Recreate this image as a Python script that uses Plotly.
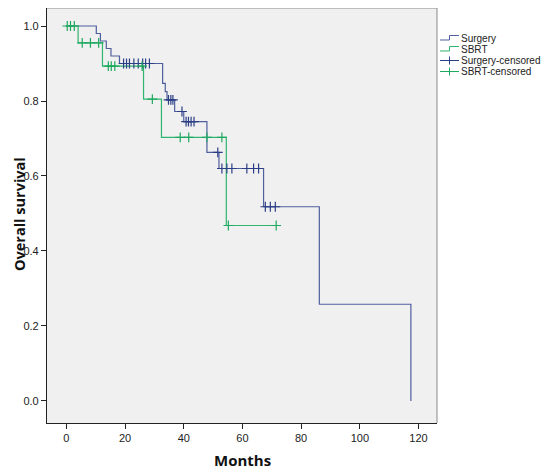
import numpy as np
import plotly.graph_objects as go

# curvas de Kaplan-Meier: tempo do evento (meses) e sobrevida depois do evento
surgery_time = [0, 10.2, 11.6, 13.6, 15.2, 18.1, 32.8, 33.7, 34.3, 36.9, 40.0, 47.9, 52.0, 67.2, 86.2, 117.4]
surgery_surv = [1.0, 0.98, 0.96, 0.94, 0.92, 0.90, 0.847, 0.825, 0.803, 0.772, 0.745, 0.663, 0.62, 0.518, 0.258, 0.0]
surgery_cens = [19.5, 20.5, 21.5, 23, 24.5, 26, 27, 28.3, 34.8, 35.6, 36.3, 39.4, 40.8, 41.6, 42.5, 43.5,
                51.6, 53, 54.7, 56.4, 61.5, 63.8, 65.5, 67.8, 69.5, 71.2]

sbrt_time = [0, 4.0, 12.3, 26.3, 32.4, 54.5, 71.5]
sbrt_surv = [1.0, 0.955, 0.893, 0.805, 0.703, 0.468, 0.468]
sbrt_cens = [0.3, 1.4, 2.7, 5.4, 8.2, 11.0, 14.3, 15.3, 16.5, 25.8, 29.3, 38.8, 41.7, 47.9, 53.0, 55.2, 71.5]

x_ticks = [0, 20, 40, 60, 80, 100, 120]
y_ticks = [0.0, 0.2, 0.4, 0.6, 0.8, 1.0]

legend_names = ['Surgery', 'SBRT', 'Surgery-censored', 'SBRT-censored']

BLUE = '#4f5f9e'
BLUE_C = '#2b3f86'
GREEN = '#2fb56e'
GREEN_C = '#1fa85f'


def surv_at(times, surv, t):
    # valor da curva em degrau no tempo t
    idx = np.searchsorted(np.array(times), np.array(t), side='right') - 1
    return np.array(surv)[idx]


fig = go.Figure()
fig.add_trace(go.Scatter(x=surgery_time, y=surgery_surv, mode='lines', line_shape='hv',
                         line=dict(color=BLUE, width=1.2), showlegend=False))
fig.add_trace(go.Scatter(x=sbrt_time, y=sbrt_surv, mode='lines', line_shape='hv',
                         line=dict(color=GREEN, width=1.2), showlegend=False))
fig.add_trace(go.Scatter(x=surgery_cens, y=surv_at(surgery_time, surgery_surv, surgery_cens), mode='markers',
                         marker=dict(symbol='cross-thin', size=7, line=dict(color=BLUE_C, width=1.2)),
                         showlegend=False))
fig.add_trace(go.Scatter(x=sbrt_cens, y=surv_at(sbrt_time, sbrt_surv, sbrt_cens), mode='markers',
                         marker=dict(symbol='cross-thin', size=7, line=dict(color=GREEN_C, width=1.2)),
                         showlegend=False))

# moldura: topo e direita em cinza
fig.add_shape(type='line', xref='paper', yref='paper', x0=0, x1=1, y0=1, y1=1,
              line=dict(color='#8a8a8a', width=1))
fig.add_shape(type='line', xref='paper', yref='paper', x0=1, x1=1, y0=0, y1=1,
              line=dict(color='#8a8a8a', width=1))

# legenda manual (area do grafico na pagina: 47..437 px horizontal, 8..423 px vertical)
pw, ph = 390.0, 415.0
def px_x(p):
    return (p - 47) / pw
def px_y(p):
    return (423 - p) / ph

legend_cols = [BLUE, GREEN, BLUE_C, GREEN_C]
for i, (nome, cor) in enumerate(zip(legend_names, legend_cols)):
    yc = 38.5 + 11 * i
    if i < 2:
        fig.add_shape(type='path', xref='paper', yref='paper',
                      path='M %f,%f L %f,%f L %f,%f L %f,%f' % (
                          px_x(440), px_y(yc + 1.5), px_x(449.5), px_y(yc + 1.5),
                          px_x(449.5), px_y(yc - 3), px_x(459), px_y(yc - 3)),
                      line=dict(color=cor, width=1))
    else:
        fig.add_shape(type='line', xref='paper', yref='paper', x0=px_x(440), x1=px_x(459),
                      y0=px_y(yc), y1=px_y(yc), line=dict(color=cor, width=1))
        fig.add_shape(type='line', xref='paper', yref='paper', x0=px_x(449.5), x1=px_x(449.5),
                      y0=px_y(yc - 4), y1=px_y(yc + 4), line=dict(color=cor, width=1))
    fig.add_annotation(x=px_x(459.5), y=px_y(yc), xref='paper', yref='paper', text=nome,
                       showarrow=False, xanchor='left', yanchor='middle', borderpad=0,
                       font=dict(family='Liberation Sans', size=10, color='#222'))

# titulos dos eixos
fig.add_annotation(x=px_x(19), y=px_y(214), xref='paper', yref='paper', text='<b>Overall survival</b>',
                   textangle=-90, showarrow=False, xanchor='center', yanchor='middle', borderpad=0,
                   font=dict(family='Open Sans', size=14.5, color='#111'))
fig.add_annotation(x=px_x(242), y=px_y(460), xref='paper', yref='paper', text='<b>Months</b>',
                   showarrow=False, xanchor='center', yanchor='middle',
                   font=dict(family='Open Sans', size=15, color='#111'))

fig.update_layout(
    width=542, height=465,
    margin=dict(l=39, r=113, t=0, b=50, autoexpand=False),
    paper_bgcolor='white', plot_bgcolor='#f0f0f0',
    showlegend=False,
    font=dict(family='Liberation Sans', size=11, color='#222'),
)
fig.update_xaxes(range=[-6.6, 126.3], tickvals=x_ticks, showgrid=False, zeroline=False,
                 showline=True, linecolor='#222', linewidth=1.2, ticks='outside', ticklen=5,
                 tickcolor='#222', automargin=False)
fig.update_yaxes(range=[-0.0587, 1.048], tickvals=y_ticks, tickformat='.1f', showgrid=False, zeroline=False,
                 showline=True, linecolor='#222', linewidth=1.2, ticks='outside', ticklen=5,
                 tickcolor='#222', automargin=False)

fig.write_html('out.html')
